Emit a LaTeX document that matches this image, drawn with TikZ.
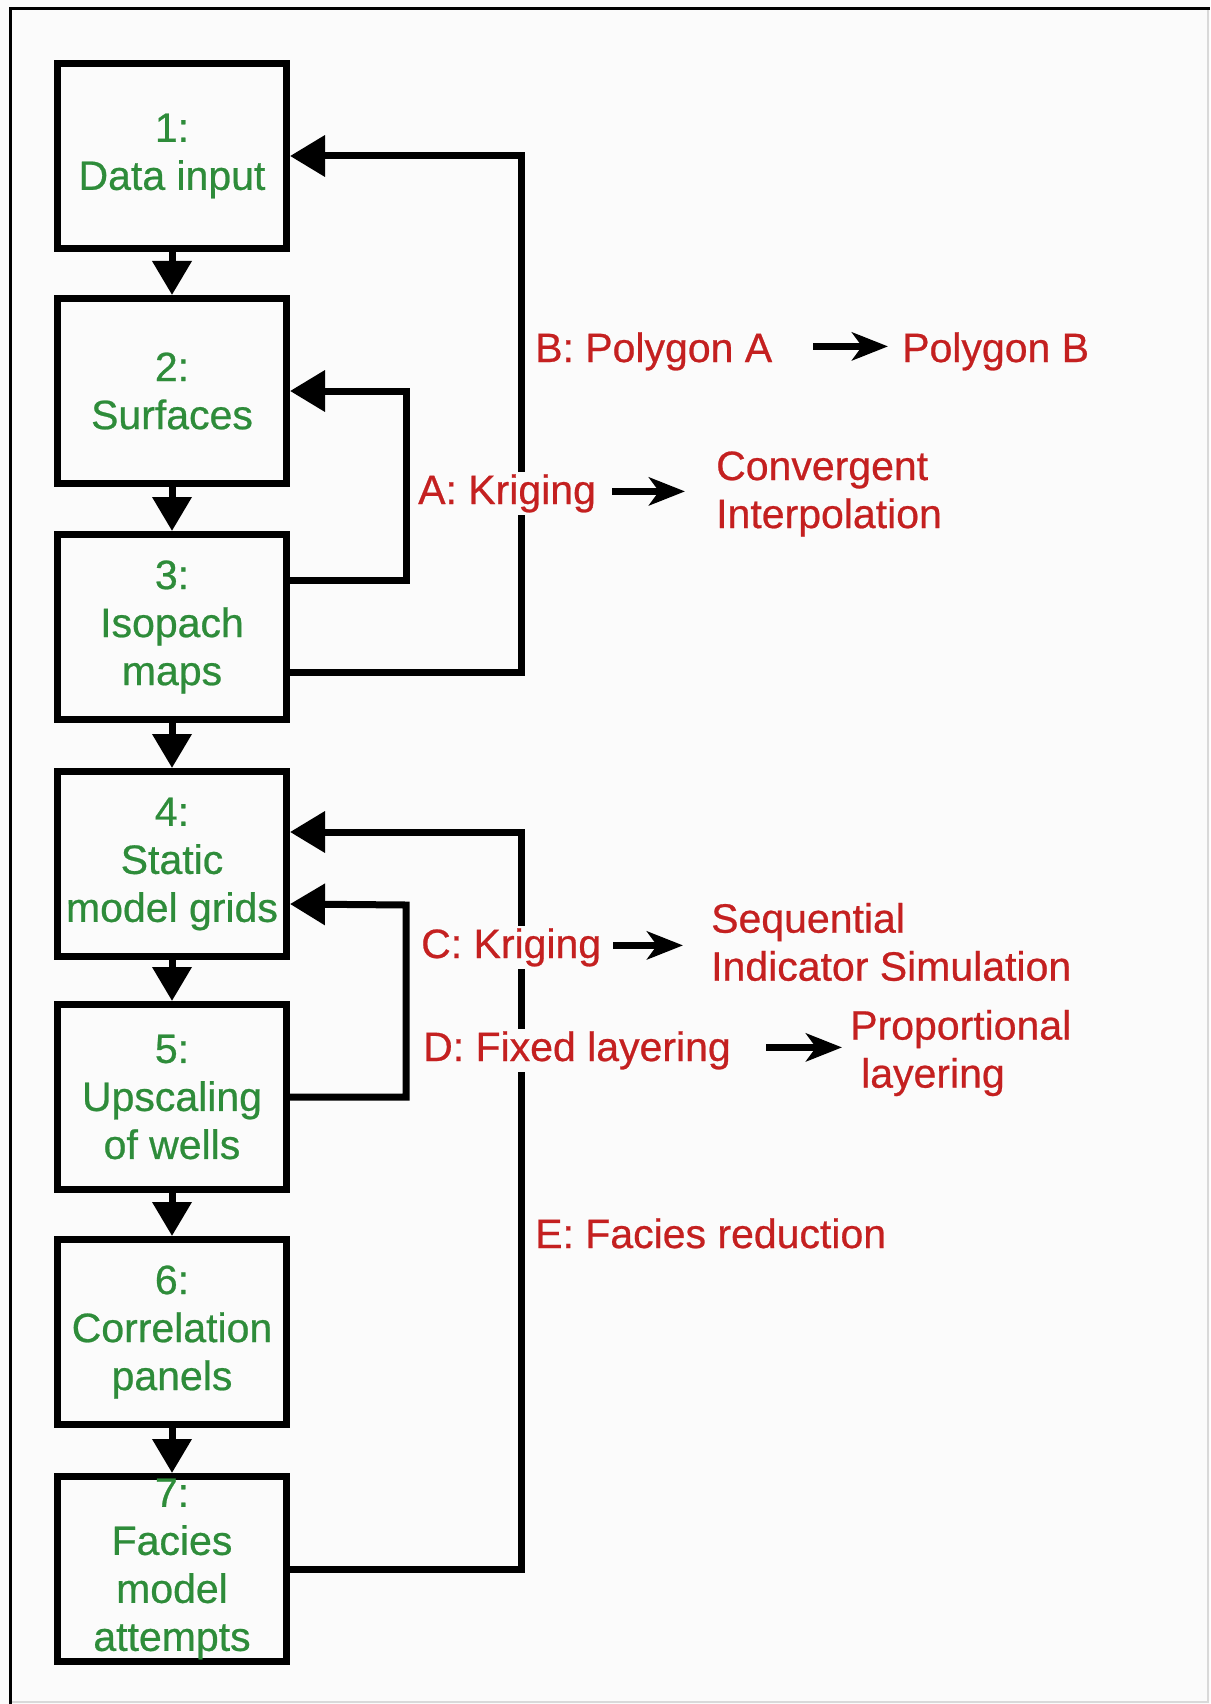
\documentclass[tikz,border=0pt]{standalone}
\usepackage{fontspec}
\setmainfont{Liberation Sans}
\newfontfamily\heavysans[FakeBold=0.6]{Liberation Sans}
\usetikzlibrary{arrows.meta}
\definecolor{stepgreen}{RGB}{46,140,58}
\definecolor{optred}{RGB}{196,32,32}
\definecolor{paper}{RGB}{251,251,251}

\begin{document}
\begin{tikzpicture}[x=1pt,y=-1pt,
	box/.style={rectangle,draw,line width=7pt,minimum width=229pt,minimum height=185pt,inner sep=0pt,align=center,text=stepgreen,font=\heavysans\fontsize{41}{48}\selectfont},
	opt/.style={text=optred,font=\heavysans\fontsize{41}{48}\selectfont,inner sep=2pt,fill=paper,align=left},
	down/.style={line width=7pt,-{Triangle[length=34pt,width=38pt]}},
	back/.style={line width=7pt,-{Triangle[length=35pt,width=40pt]}},
	toward/.style={line width=7pt,-{Stealth[length=36pt,width=28pt,inset=10pt]}}]
		\useasboundingbox (0,0) rectangle (1210,1704);
		\fill[paper] (0,0) rectangle (1210,1704);
		\draw[gray!30,line width=2pt] (1208,8) -- (1208,1702) -- (10,1702);
		\draw[line width=3pt] (10,1704) -- (10,8.5) -- (1210,8.5);
		\path (172,156) node(b1)[box]{1:\\Data input}
		(172,391) node(b2)[box]{2:\\Surfaces}
		(172,627) node(b3)[box]{3:\\Isopach\\maps}
		(172,864) node(b4)[box]{4:\\Static\\model grids}
		(172,1097) node(b5)[box]{5:\\Upscaling\\of wells}
		(172,1332) node(b6)[box]{6:\\Correlation\\panels}
		(172,1569) node(b7)[box]{7:\\Facies\\model\\attempts};
		\foreach \a/\b in {b1/b2,b2/b3,b3/b4,b4/b5,b5/b6,b6/b7}
			\draw[down] (\a.south) -- (\b.north);
		\draw[back] ([yshift=-45pt]b3.east) -| (521,156) -- (b1.east);
		\draw[back] ([yshift=47pt]b3.east) -| (406,391) -- (b2.east);
		\draw[back] (b7.east) -| (521,832) -- ([yshift=32pt]b4.east);
		\draw[back] (b5.east) -| (406,905) -- ([yshift=-40pt]b4.east);
		\path (533,362) node(polyA)[opt,anchor=base west]{B: Polygon A}
		(900,362) node(polyB)[opt,anchor=base west]{Polygon B}
		(416,504) node(krigA)[opt,anchor=base west]{A: Kriging}
		(714,494) node(conv)[opt,anchor=west]{Convergent\\Interpolation}
		(419,958) node(krigC)[opt,anchor=base west]{C: Kriging}
		(709,942) node(seqsim)[opt,anchor=west]{Sequential\\Indicator Simulation}
		(421,1061) node(fixed)[opt,anchor=base west]{D: Fixed layering}
		(848,1053) node(prop)[opt,anchor=west]{Proportional\\\hspace*{11pt}layering}
		(533,1248) node(facies)[opt,anchor=base west]{E: Facies reduction};
		\draw[toward] ([xshift=39pt,yshift=5pt]polyA.east) -- ([xshift=-12pt,yshift=5pt]polyB.west);
		\draw[toward] ([xshift=14pt,yshift=2pt]krigA.east) -- ([xshift=-29pt,yshift=2pt]krigA.east -| conv.west);
		\draw[toward] ([xshift=10pt,yshift=2pt]krigC.east) -- ([xshift=-26pt,yshift=2pt]krigC.east -| seqsim.west);
		\draw[toward] ([xshift=33pt,yshift=3pt]fixed.east) -- ([xshift=-6pt,yshift=3pt]fixed.east -| prop.west);
	\end{tikzpicture}
\end{document}
